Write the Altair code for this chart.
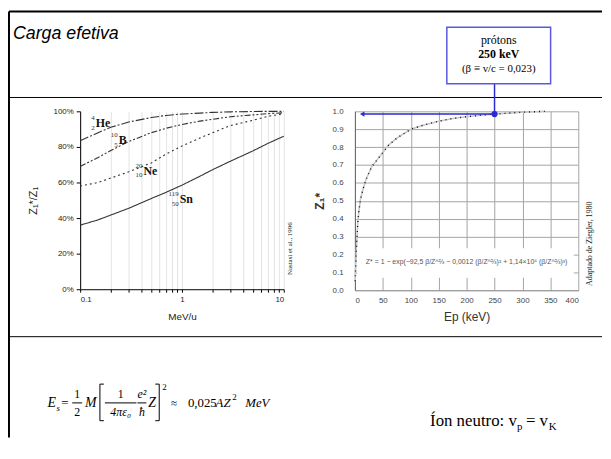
import altair as alt
import pandas as pd

# ---------------- data ----------------
# Left panel: Z1*/Z1 vs MeV/u (Nastasi et al., 1996)
energy_mev = [0.1, 0.15, 0.2, 0.3, 0.5, 0.7, 1, 1.5, 2, 3, 5, 7, 10]
he = [0.835, 0.88, 0.91, 0.94, 0.965, 0.977, 0.985, 0.99, 0.994, 0.997, 0.999, 1.0, 1.0]
b = [0.69, 0.74, 0.78, 0.83, 0.88, 0.905, 0.926, 0.945, 0.955, 0.97, 0.98, 0.987, 0.992]
ne = [0.58, 0.60, 0.625, 0.66, 0.71, 0.76, 0.805, 0.85, 0.88, 0.92, 0.95, 0.972, 0.987]
sn = [0.36, 0.39, 0.417, 0.455, 0.51, 0.545, 0.585, 0.635, 0.672, 0.72, 0.778, 0.82, 0.86]
ions = ["He", "B", "Ne", "Sn"]
ion_mass = ["4", "10", "20", "119"]
ion_z = ["2", "5", "10", "50"]
label_e = [0.142, 0.239, 0.418, 0.949]
label_f = [0.935, 0.837, 0.667, 0.509]

# Right panel: Z1* vs Ep (keV) for protons (Ziegler, 1980)
ep_kev = [0.5, 1, 2, 3, 5, 7, 10, 15, 20, 30, 40, 50, 60, 75, 100, 125, 150, 175, 200, 225, 250, 275, 300, 340]
zstar = [0.05, 0.1, 0.18, 0.25, 0.37, 0.44, 0.51, 0.57, 0.62, 0.69, 0.73, 0.77, 0.81, 0.85, 0.9, 0.925,
         0.945, 0.96, 0.97, 0.978, 0.985, 0.99, 0.995, 1.0]
proton_e = [250]
proton_z = [0.985]
arrow_tip_e = [13]
formula_e = [200]
formula_z = [0.16]
formula_box_e = [4, 392]
formula_box_z = [0.07, 0.235]

left_df = pd.DataFrame(
    [{"E": e, "f": v, "ion": ion} for ion, vals in zip(ions, [he, b, ne, sn]) for e, v in zip(energy_mev, vals)]
)
lab_df = pd.DataFrame({"E": label_e, "f": label_f, "sym": ions, "mass": ion_mass, "z": ion_z})
right_df = pd.DataFrame({"E": ep_kev, "z": zstar})
arrow_df = pd.DataFrame({"E": proton_e, "E2": arrow_tip_e, "z": proton_z})
tip_df = pd.DataFrame({"E": arrow_tip_e, "z": proton_z})
fbox_df = pd.DataFrame({"E": [formula_box_e[0]], "E2": [formula_box_e[1]],
                        "z": [formula_box_z[0]], "z2": [formula_box_z[1]]})
ftxt_df = pd.DataFrame({"E": formula_e, "z": formula_z})
one = pd.DataFrame({"k": [0]})

SERIF = "Liberation Serif"
SANS = "Liberation Sans"
BLUE = "#2a2ad0"
BOXBLUE = "#5858e0"


def txt(x, y, s, size=13, font=SERIF, style="normal", weight="normal", align="left",
        baseline="middle", color="#000", angle=0):
    return alt.Chart(one).mark_text(
        text=s, fontSize=size, font=font, fontStyle=style, fontWeight=weight,
        align=align, baseline=baseline, color=color, angle=angle
    ).encode(x=alt.value(x), y=alt.value(y))


def hrule(x, x2, y, color="#000", w=1):
    return alt.Chart(one).mark_rule(color=color, strokeWidth=w).encode(
        x=alt.value(x), x2=alt.value(x2), y=alt.value(y))


def vrule(x, y, y2, color="#000", w=1):
    return alt.Chart(one).mark_rule(color=color, strokeWidth=w).encode(
        x=alt.value(x), y=alt.value(y), y2=alt.value(y2))


# ---------------- left panel ----------------
log_vals = [0.1, 0.2, 0.3, 0.4, 0.5, 0.6, 0.7, 0.8, 0.9, 1, 2, 3, 4, 5, 6, 7, 8, 9, 10]
xl = alt.X("E:Q", scale=alt.Scale(type="log", domain=[0.1, 10], nice=False),
           axis=alt.Axis(values=log_vals, format="~g",
                         labelExpr="(datum.value == 0.1 || datum.value == 1 || datum.value == 10) ? datum.label : ''",
                         grid=True, gridColor="#d6d6d6", gridWidth=0.7,
                         domainColor="#000", tickColor="#000", tickSize=3,
                         labelFont=SANS, labelFontSize=8, labelColor="#222", labelPadding=3,
                         title="MeV/u", titleFont=SANS, titleFontSize=10, titleFontWeight="normal",
                         titleColor="#222", titlePadding=9))
yl = alt.Y("f:Q", scale=alt.Scale(domain=[0, 1], nice=False),
           axis=alt.Axis(values=[0, 0.2, 0.4, 0.6, 0.8, 1], format=".0%", grid=False,
                         domainColor="#000", tickColor="#000", tickSize=4,
                         labelFont=SANS, labelFontSize=8, labelColor="#222", labelPadding=3,
                         title="Z₁*/Z₁", titleFont=SANS, titleFontSize=11, titleFontWeight="normal",
                         titleColor="#222", titlePadding=15))

curves = alt.Chart(left_df).mark_line(color="#333", strokeWidth=1.1).encode(
    x=xl, y=yl,
    strokeDash=alt.StrokeDash("ion:N", scale=alt.Scale(
        domain=ions, range=[[9, 2, 2, 2], [6, 2, 2, 2, 2, 2], [2, 3], [1, 0]]), legend=None),
    detail="ion:N",
)
sym = alt.Chart(lab_df).mark_text(font=SERIF, fontSize=12, fontWeight="bold", align="left",
                                  baseline="middle", color="#111").encode(x=xl, y=yl, text="sym:N")
mass = alt.Chart(lab_df).mark_text(font=SERIF, fontSize=7, align="right", baseline="middle",
                                   dx=-1, dy=-5, color="#333").encode(x=xl, y=yl, text="mass:N")
znum = alt.Chart(lab_df).mark_text(font=SERIF, fontSize=7, align="right", baseline="middle",
                                   dx=-1, dy=5, color="#333").encode(x=xl, y=yl, text="z:N")

left_deco = [
    # slide frame
    vrule(-72, -101, 330, w=2),
    hrule(-72, 528, -101, w=2),
    hrule(-72, 528, -14),
    hrule(-72, 528, 228),
    # title
    txt(-68, -73, "Carga efetiva", size=18, font=SANS, style="italic", baseline="alphabetic"),
    # source
    txt(212, 139, "Nastasi et al., 1996", size=7, angle=270, align="center", color="#222"),
    # formula E_s = 1/2 M [ 1/(4 pi eps0) e^2/hbar Z ]^2 ~ 0,025 A Z^2 MeV
    txt(-33, 295, "E", size=14, style="italic"),
    txt(-24, 300, "s", size=9, style="italic"),
    txt(-19, 295, "=", size=13),
    txt(-3, 286, "1", size=12, align="center"),
    hrule(-8, 2, 295),
    txt(-3, 304, "2", size=12, align="center"),
    txt(5, 295, "M", size=14, style="italic"),
    vrule(20, 276, 313), hrule(20, 24, 276), hrule(20, 24, 313),
    txt(41, 286, "1", size=12, align="center"),
    hrule(25, 57, 295),
    txt(41, 304, "4πε₀", size=12, style="italic", align="center"),
    txt(62.5, 286, "e²", size=12, style="italic", align="center"),
    hrule(58, 67, 295),
    txt(62.5, 304, "ħ", size=12, style="italic", align="center"),
    txt(69, 295, "Z", size=14, style="italic"),
    vrule(80, 276, 313), hrule(76, 80, 276), hrule(76, 80, 313),
    txt(83, 279, "2", size=9),
    txt(92, 296, "≈", size=11),
    txt(109, 295, "0,025", size=13),
    txt(137, 295, "AZ", size=13, style="italic"),
    txt(154, 289, "2", size=9),
    txt(167, 295, "MeV", size=13, style="italic"),
]

left = alt.layer(curves, sym, mass, znum, *left_deco).properties(width=206, height=180)

# ---------------- right panel ----------------
xr = alt.X("E:Q", scale=alt.Scale(domain=[0, 400], nice=False),
           axis=alt.Axis(values=[0, 50, 100, 150, 200, 250, 300, 350, 400], grid=True,
                         gridColor="#a4a4a4", gridWidth=1,
                         domainColor="#999", ticks=False, labelPadding=6,
                         labelFont=SANS, labelFontSize=8, labelColor="#444",
                         title="Ep (keV)", titleFont=SANS, titleFontSize=12, titleFontWeight="normal",
                         titleColor="#333", titlePadding=8))
yr = alt.Y("z:Q", scale=alt.Scale(domain=[0, 1], nice=False),
           axis=alt.Axis(values=[0, 0.1, 0.2, 0.3, 0.4, 0.5, 0.6, 0.7, 0.8, 0.9, 1.0], format=".1f",
                         grid=True, gridColor="#a4a4a4", gridWidth=1,
                         domainColor="#666", ticks=False, labelPadding=12,
                         labelFont=SANS, labelFontSize=8, labelColor="#444",
                         title="Z₁*", titleFont=SANS, titleFontSize=12, titleFontWeight="bold",
                         titleColor="#333", titlePadding=6))

gray_line = alt.Chart(right_df).mark_line(color="#c8c8c8", strokeWidth=1.6).encode(x=xr, y=yr)
dot_line = alt.Chart(right_df).mark_line(color="#111", strokeWidth=1.4, strokeDash=[1, 4]).encode(x=xr, y=yr)

formula_bg = alt.Chart(fbox_df).mark_rect(fill="white").encode(x=xr, x2="E2:Q", y=yr, y2="z2:Q")
formula_txt = alt.Chart(ftxt_df).mark_text(
    text="Z* = 1 − exp(−92,5 β/Z^⅔ − 0,0012 (β/Z^⅔)² + 1,14×10⁵ (β/Z^⅔)³)",
    font=SANS, fontSize=7, color="#555", align="center", baseline="middle"
).encode(x=xr, y=yr)

harrow = alt.Chart(arrow_df).mark_rule(color=BLUE, strokeWidth=1.5).encode(x=xr, x2="E2:Q", y=yr)
harrow_head = alt.Chart(tip_df).mark_point(shape="triangle-left", filled=True, size=28, color=BLUE,
                                           opacity=1).encode(x=xr, y=yr)
varrow = alt.Chart(arrow_df).mark_rule(color=BLUE, strokeWidth=1.5).encode(x=xr, y=yr, y2=alt.value(-31))
varrow_head = alt.Chart(arrow_df).mark_point(shape="triangle-up", filled=True, size=22, color=BLUE,
                                             opacity=1).encode(x=xr, y=alt.value(-31))
pdot = alt.Chart(arrow_df).mark_point(shape="circle", filled=True, size=40, color=BLUE,
                                      opacity=1).encode(x=xr, y=yr)

box = alt.Chart(one).mark_rect(fill="white", stroke=BOXBLUE, strokeWidth=1.5).encode(
    x=alt.value(93), x2=alt.value(198), y=alt.value(-85), y2=alt.value(-28))

right_deco = [
    box,
    txt(145.5, -72, "prótons", size=12, align="center"),
    txt(145.5, -58, "250 keV", size=12, weight="bold", align="center"),
    txt(145.5, -43, "(β ≡ v/c = 0,023)", size=11, align="center"),
    txt(238, 134, "Adaptado de Ziegler, 1980", size=8, angle=270, align="center", color="#222"),
    txt(76, 313, "Íon neutro: v", size=17),
    txt(164, 319, "p", size=11),
    txt(173, 313, "= v", size=17),
    txt(196, 319, "K", size=11),
]

right = alt.layer(gray_line, formula_bg, formula_txt, dot_line, harrow, harrow_head, varrow,
                  varrow_head, pdot, *right_deco).properties(width=226, height=181)

chart = alt.hconcat(left, right, spacing=72, bounds="flush", padding=0).configure_view(stroke=None)

chart.save("out.html", embed_options={"renderer": "svg", "actions": False})
